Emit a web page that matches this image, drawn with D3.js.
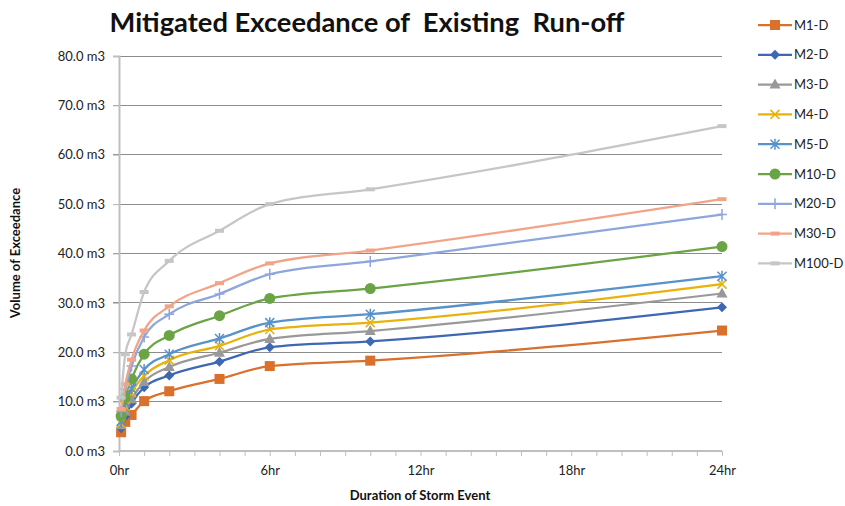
<!DOCTYPE html>
<html>
<head>
<meta charset="utf-8">
<script src="https://cdn.jsdelivr.net/npm/d3@7"></script>
<style>
  html, body { margin: 0; padding: 0; background: #fff; }
  svg { display: block; font-family: Lato, "Open Sans", sans-serif; }
</style>
</head>
<body>
<svg id="chart" width="845" height="506"></svg>
<script>
// Storm durations in hours
const durations = [5 / 60, 0.25, 0.5, 1, 2, 4, 6, 10, 24];

// Exceedance volumes (m3) per return period
const m1   = [3.8, 5.9, 7.3, 10.1, 12.1, 14.6, 17.2, 18.3, 24.4];
const m2   = [4.6, 7.0, 9.6, 12.9, 15.3, 18.1, 21.0, 22.2, 29.1];
const m3   = [5.2, 8.0, 10.5, 14.0, 17.0, 19.9, 22.7, 24.3, 31.9];
const m4   = [5.6, 9.0, 11.8, 15.2, 18.4, 21.3, 24.6, 26.0, 33.8];
const m5   = [6.0, 9.8, 12.6, 16.5, 19.6, 22.8, 26.0, 27.7, 35.4];
const m10  = [7.1, 10.8, 14.6, 19.6, 23.4, 27.4, 30.9, 32.9, 41.4];
const m20  = [8.0, 12.5, 17.2, 23.1, 27.7, 31.8, 35.8, 38.4, 47.9];
const m30  = [8.5, 13.5, 18.5, 24.4, 29.3, 34.0, 38.0, 40.6, 51.0];
const m100 = [10.8, 19.6, 23.6, 32.2, 38.5, 44.6, 50.0, 53.0, 65.8];

const seriesNames = ["M1-D", "M2-D", "M3-D", "M4-D", "M5-D", "M10-D", "M20-D", "M30-D", "M100-D"];
const seriesValues = [m1, m2, m3, m4, m5, m10, m20, m30, m100];

const yTicks = [0, 10, 20, 30, 40, 50, 60, 70, 80];
const xTicks = [0, 6, 12, 18, 24];

const title = "Mitigated Exceedance of  Existing  Run-off";
const xTitle = "Duration of Storm Event";
const yTitle = "Volume of Exceedance";

const colors  = ["#D9702C", "#3E68B4", "#999999", "#E8B20A", "#5792CB", "#6AA444", "#8EA6DB", "#F2A489", "#C6C6C6"];
const markers = ["square", "diamond", "triangle", "x", "star", "circle", "plus", "dash", "dash"];

const svg = d3.select("#chart");
const x = d3.scaleLinear().domain([0, 24]).range([119, 722]);
const y = d3.scaleLinear().domain([0, 80]).range([451, 56]);

// Horizontal gridlines
svg.append("g")
  .selectAll("line")
  .data(yTicks.filter(d => d > 0))
  .join("line")
  .attr("x1", x(0) - 6).attr("x2", x(24))
  .attr("y1", d => y(d)).attr("y2", d => y(d))
  .attr("stroke", "#8C8C8C").attr("stroke-width", 1)
  .attr("shape-rendering", "crispEdges");

// Y axis
const yAxis = d3.axisLeft(y).tickValues(yTicks).tickSize(6).tickPadding(8)
  .tickFormat(d => d3.format(".1f")(d) + " m3");
const gy = svg.append("g").attr("transform", `translate(${x(0)},0)`).call(yAxis);
gy.select(".domain").attr("stroke", "#BFBFBF").attr("stroke-width", 2);
gy.selectAll(".tick line").attr("stroke", "#BFBFBF");
gy.selectAll(".tick text").attr("font-size", 13).attr("fill", "#222")
  .attr("font-family", "Lato, sans-serif");

// X axis with hourly minor ticks
const xAxis = d3.axisBottom(x).tickValues(d3.range(0, 25, 1)).tickSize(5).tickPadding(10)
  .tickFormat(d => xTicks.includes(d) ? d + "hr" : "");
const gx = svg.append("g").attr("transform", `translate(0,${y(0)})`).call(xAxis);
gx.select(".domain").attr("stroke", "#BFBFBF").attr("stroke-width", 2)
  .attr("d", `M${x(0)},0H${x(24)}`);
gx.selectAll(".tick line").attr("stroke", "#BFBFBF");
gx.selectAll(".tick text").attr("font-size", 13).attr("fill", "#222")
  .attr("font-family", "Lato, sans-serif");

// Series lines (smoothed)
const line = d3.line()
  .x((d, i) => x(durations[i]))
  .y(d => y(d))
  .curve(d3.curveMonotoneX);

function drawMarker(g, type, color, cx, cy) {
  const s = 4.5;
  if (type === "square") {
    g.append("rect").attr("x", cx - 5).attr("y", cy - 5).attr("width", 10).attr("height", 10).attr("fill", color);
  } else if (type === "diamond") {
    g.append("path").attr("d", `M${cx},${cy - 5}L${cx + 5},${cy}L${cx},${cy + 5}L${cx - 5},${cy}Z`).attr("fill", color);
  } else if (type === "triangle") {
    g.append("path").attr("d", `M${cx},${cy - 6}L${cx + 5.5},${cy + 4}L${cx - 5.5},${cy + 4}Z`).attr("fill", color);
  } else if (type === "circle") {
    g.append("circle").attr("cx", cx).attr("cy", cy).attr("r", 5.5).attr("fill", color);
  } else if (type === "x") {
    g.append("path").attr("d", `M${cx - s},${cy - s}L${cx + s},${cy + s}M${cx - s},${cy + s}L${cx + s},${cy - s}`)
      .attr("stroke", color).attr("stroke-width", 1.5).attr("fill", "none");
  } else if (type === "star") {
    g.append("path").attr("d", `M${cx - s},${cy - s}L${cx + s},${cy + s}M${cx - s},${cy + s}L${cx + s},${cy - s}M${cx},${cy - 5.5}L${cx},${cy + 5.5}`)
      .attr("stroke", color).attr("stroke-width", 1.5).attr("fill", "none");
  } else if (type === "plus") {
    g.append("path").attr("d", `M${cx - 5},${cy}L${cx + 5},${cy}M${cx},${cy - 5.5}L${cx},${cy + 5.5}`)
      .attr("stroke", color).attr("stroke-width", 1.5).attr("fill", "none");
  } else if (type === "dash") {
    g.append("rect").attr("x", cx - 4.5).attr("y", cy - 2).attr("width", 9).attr("height", 4).attr("fill", color);
  }
}

const plot = svg.append("g");
seriesValues.forEach((vals, k) => {
  const g = plot.append("g");
  g.append("path").attr("d", line(vals)).attr("fill", "none")
    .attr("stroke", colors[k]).attr("stroke-width", 2.25).attr("stroke-linejoin", "round");
  vals.forEach((v, i) => drawMarker(g, markers[k], colors[k], x(durations[i]), y(v)));
});

// Legend
const legend = svg.append("g");
seriesNames.forEach((name, k) => {
  const ly = 25 + k * 29.8;
  const g = legend.append("g");
  g.append("line").attr("x1", 758).attr("x2", 792).attr("y1", ly).attr("y2", ly)
    .attr("stroke", colors[k]).attr("stroke-width", 2.25);
  drawMarker(g, markers[k], colors[k], 775, ly);
  g.append("text").attr("x", 794).attr("y", ly).attr("dy", "0.35em")
    .attr("font-size", 13).attr("fill", "#222").text(name);
});

// Titles
svg.append("text").attr("x", 367).attr("y", 32).attr("text-anchor", "middle")
  .style("white-space", "pre")
  .attr("font-size", 27).attr("font-weight", "bold").attr("fill", "#111")
  .attr("textLength", 515).attr("lengthAdjust", "spacingAndGlyphs").text(title);
svg.append("text").attr("x", 420).attr("y", 500).attr("text-anchor", "middle")
  .attr("font-size", 13).attr("font-weight", "bold").attr("fill", "#111").text(xTitle);
svg.append("text").attr("transform", "translate(20,253) rotate(-90)").attr("text-anchor", "middle")
  .attr("font-size", 13).attr("font-weight", "bold").attr("fill", "#111").text(yTitle);
</script>
</body>
</html>
